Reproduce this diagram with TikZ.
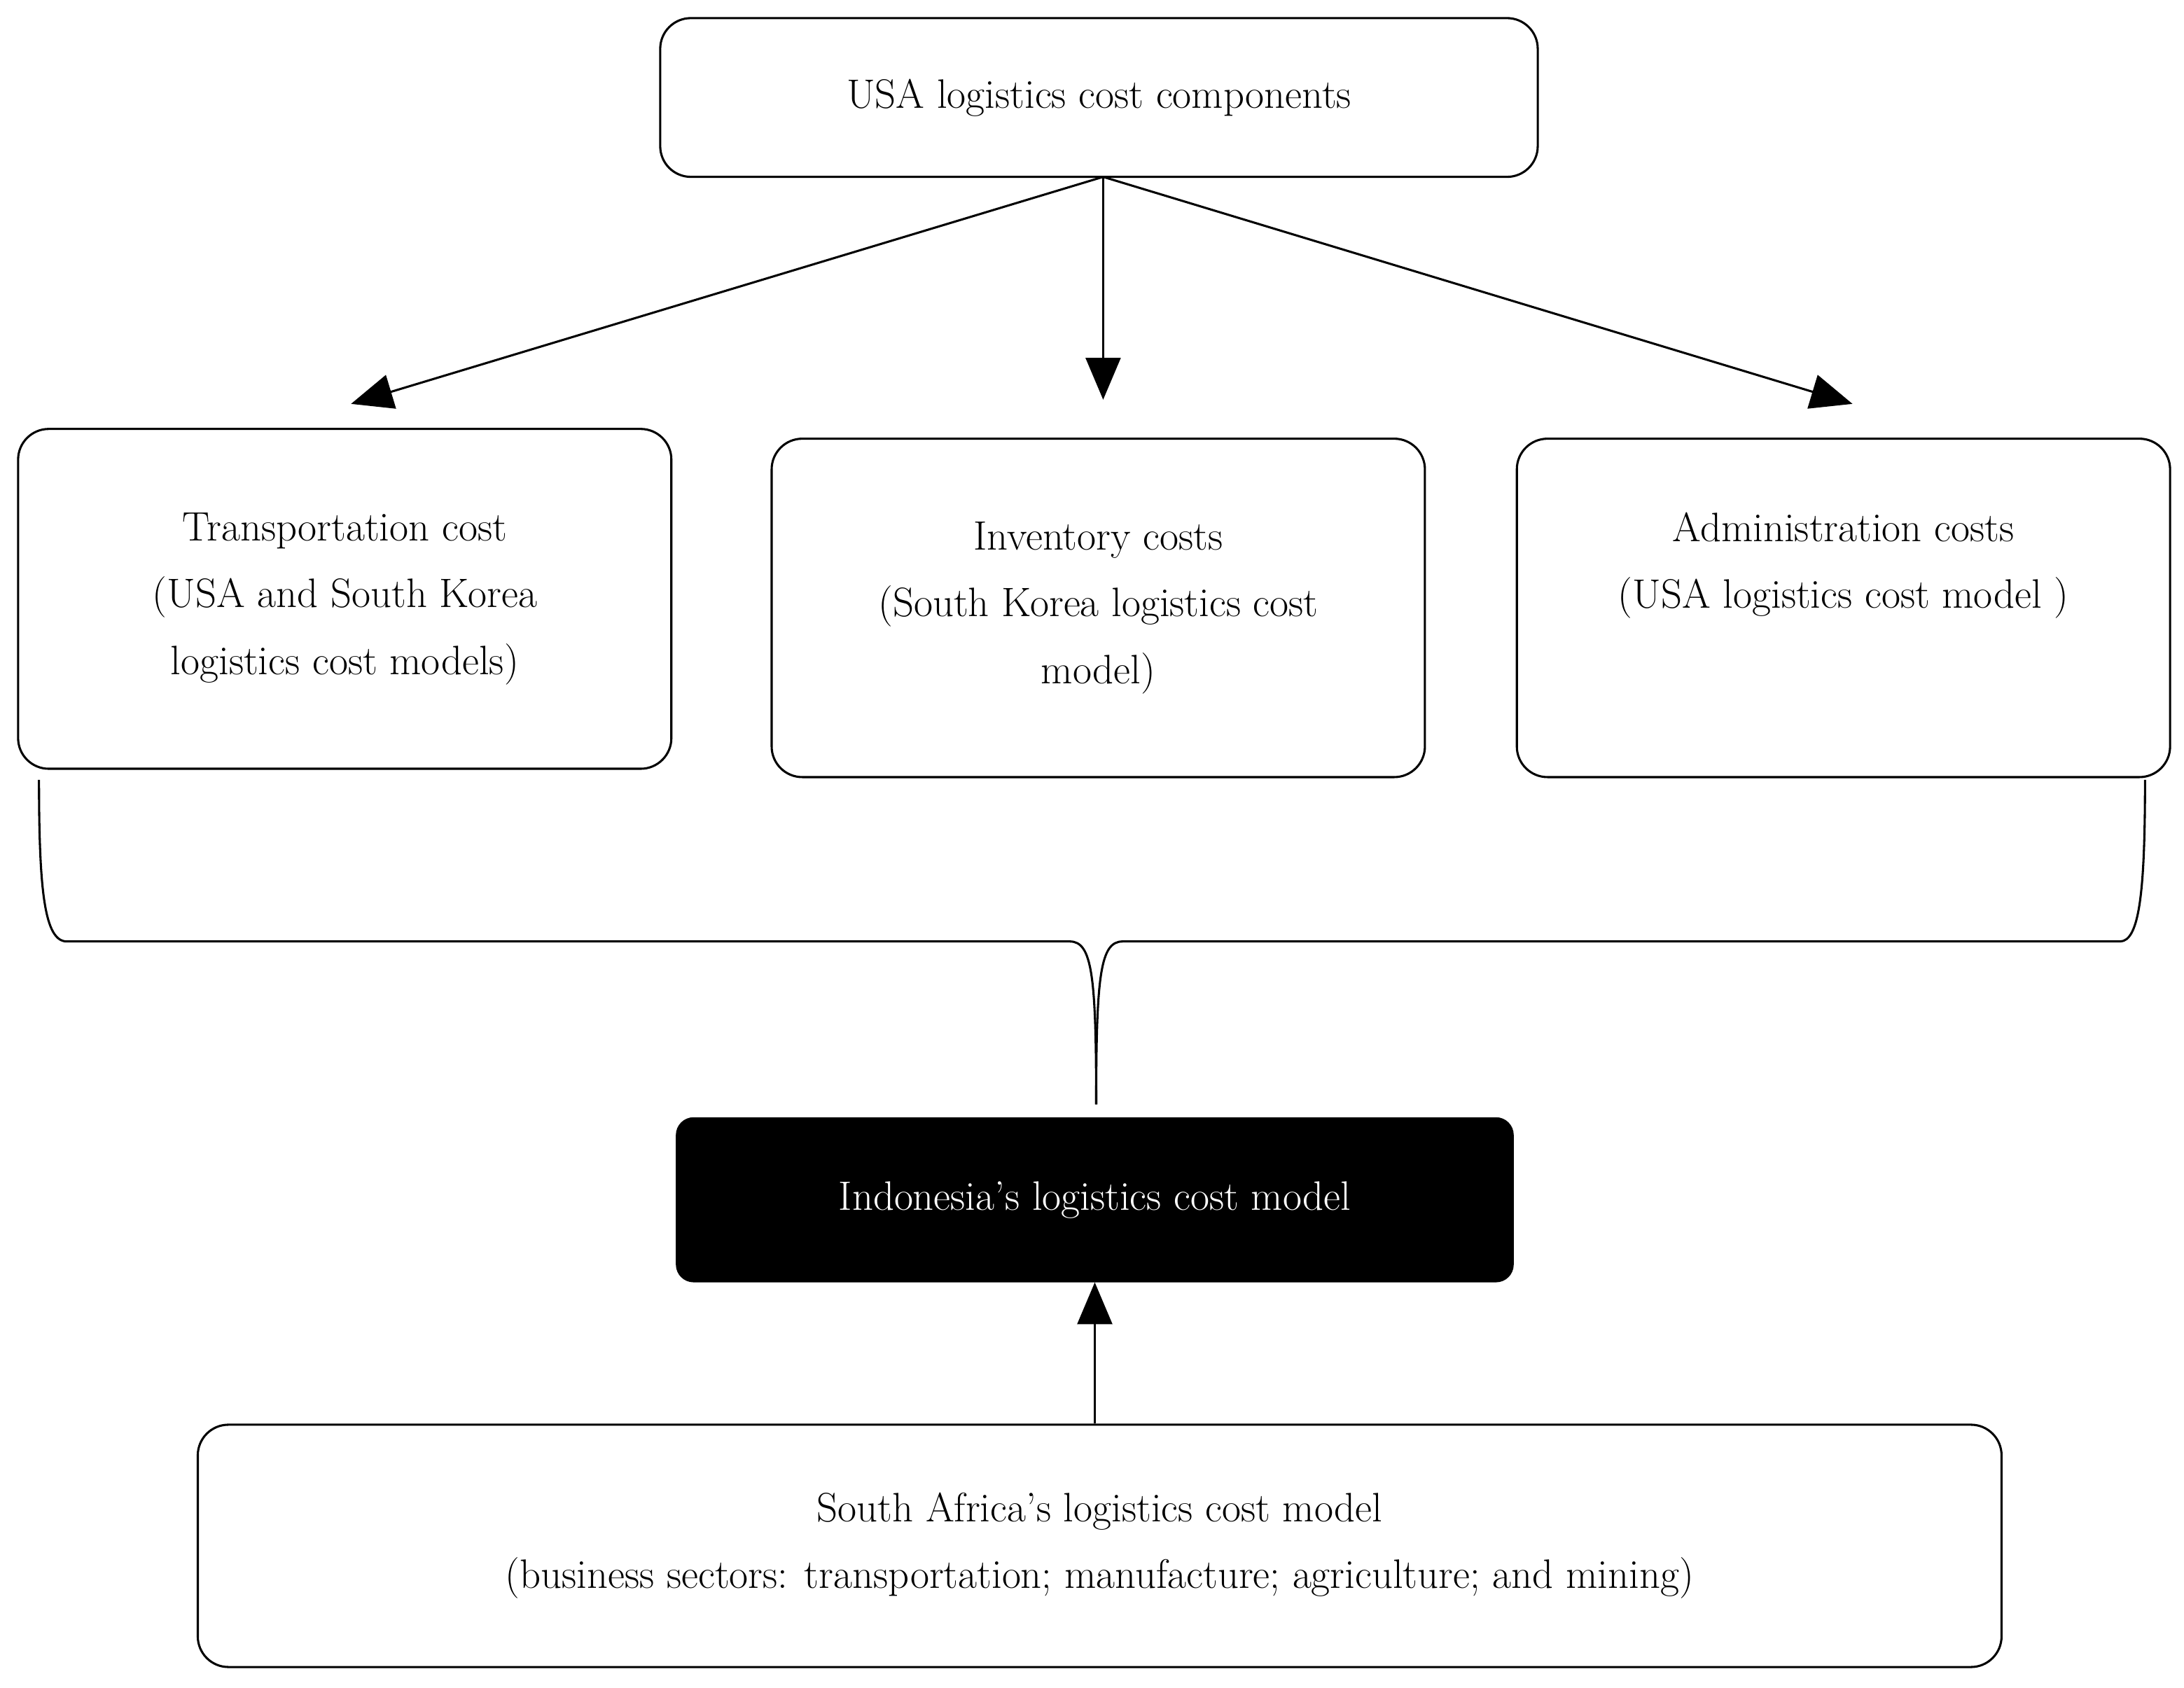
\documentclass[tikz,border=0pt]{standalone}
\usetikzlibrary{arrows.meta}
\begin{document}
\begin{tikzpicture}[x=0.05cm,y=-0.05cm,
  box/.style={draw,line width=2.2pt,rounded corners=1.1cm,align=center,inner sep=0pt,
    font=\fontsize{42}{68}\selectfont},
  arr/.style={line width=2.2pt,-{Triangle[length=1.5cm,width=1.25cm]}},
  ln/.style={line width=2.2pt}]
\useasboundingbox (0,0) rectangle (1568,1212);
\node[box,minimum width=630*0.05cm,minimum height=114*0.05cm] (usa) at (789,70) {USA logistics cost components};
\node[box,minimum width=469*0.05cm,minimum height=244*0.05cm] (tr) at (247.5,430) {Transportation cost\\(USA and South Korea\\logistics cost models)};
\node[box,minimum width=469*0.05cm,minimum height=243*0.05cm] (inv) at (788.5,436.5) {Inventory costs\\(South Korea logistics cost\\model)};
\node[box,minimum width=469*0.05cm,minimum height=243*0.05cm,text depth=3.4cm] (adm) at (1323.5,436.5) {Administration costs\\(USA logistics cost model )};
\node[box,fill=black,text=white,minimum width=600*0.05cm,minimum height=117*0.05cm,rounded corners=0.6cm] (ind) at (786,861.5) {Indonesia’s logistics cost model};
\node[box,minimum width=1295*0.05cm,minimum height=174*0.05cm] (sa) at (789.5,1110) {South Africa’s logistics cost model\\(business sectors: transportation; manufacture; agriculture; and mining)};
\coordinate (a1) at (252,290); \coordinate (a2) at (792,287); \coordinate (a3) at (1330,290);
\coordinate (top) at (792,127);
\draw[arr] (top) -- (a1);
\draw[arr] (top) -- (a2);
\draw[arr] (top) -- (a3);
\coordinate (bL) at (28,560); \coordinate (bR) at (1540,560); \coordinate (bP) at (787,793);
\draw[ln] (bL) .. controls (28,640) and (32,676) .. (48,676) -- (768,676)
  .. controls (784,676) and (787,700) .. (bP);
\draw[ln] (bR) .. controls (1540,640) and (1536,676) .. (1522,676) -- (806,676)
  .. controls (790,676) and (787,700) .. (bP);
\draw[arr] (sa.north -| ind.south) -- (ind.south);
\end{tikzpicture}
\end{document}
